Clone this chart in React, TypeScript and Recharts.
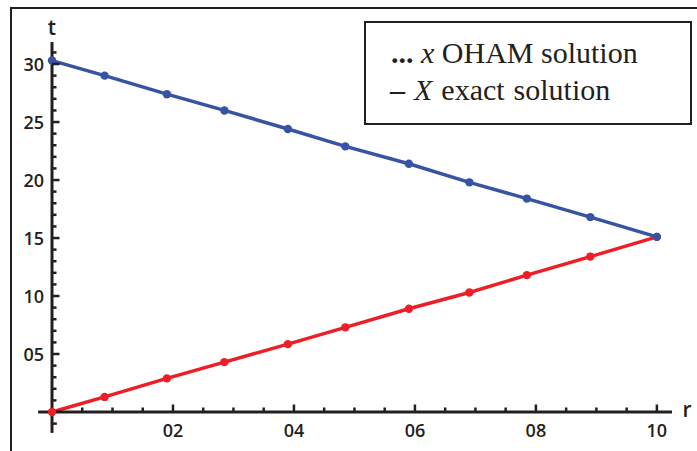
import React from 'react';
import { LineChart, Line, XAxis, YAxis, ReferenceLine, Legend } from 'recharts';

// ---- data ----
const rValues = [0, 0.087, 0.19, 0.285, 0.39, 0.485, 0.59, 0.69, 0.785, 0.89, 1.0];
const ohamValues = [3.03, 2.9, 2.74, 2.6, 2.44, 2.29, 2.14, 1.98, 1.84, 1.68, 1.51];
const exactValues = [0, 0.13, 0.29, 0.43, 0.585, 0.73, 0.89, 1.03, 1.18, 1.34, 1.51];

const xMajorTicks = [0.2, 0.4, 0.6, 0.8, 1.0];
const xMajorLabels = ['02', '04', '06', '08', '10'];
const xMinorTicks = [0.05, 0.1, 0.15, 0.25, 0.3, 0.35, 0.45, 0.5, 0.55, 0.65, 0.7, 0.75, 0.85, 0.9, 0.95];

const yMajorTicks = [0.5, 1.0, 1.5, 2.0, 2.5, 3.0];
const yMajorLabels = ['05', '10', '15', '20', '25', '30'];
const yMinorTicks = [
  0.1, 0.2, 0.3, 0.4, 0.6, 0.7, 0.8, 0.9, 1.1, 1.2, 1.3, 1.4, 1.6, 1.7, 1.8, 1.9,
  2.1, 2.2, 2.3, 2.4, 2.6, 2.7, 2.8, 2.9, 3.1,
];
const yBelowTicks = [-0.1];

const xDomain = [0, 1.025];
const yDomain = [0, 3.19];
const xAxisLeftExtent = -0.023;
const yAxisBottomExtent = -0.18;

const legendLines = ['x OHAM solution', 'X exact solution'];

const data = rValues.map((r, i) => ({ r, oham: ohamValues[i], exact: exactValues[i] }));

// ---- styles ----
const INK = '#231f20';
const BLUE = '#3753a4';
const RED = '#ed1f26';
const SANS = '"Open Sans", "Noto Sans", sans-serif';
const SERIF = '"Liberation Serif", "Times New Roman", serif';
const Y_BELOW_TICK_LEN = 0.008;

const findMajor = (list: number[], v: number) => list.findIndex((t) => Math.abs(t - v) < 1e-6);

const XTick = (props: any) => {
  const { x, y, payload } = props;
  const idx = findMajor(xMajorTicks, payload.value);
  const len = idx >= 0 ? 7.5 : 4.5;
  return (
    <g>
      <line x1={x} x2={x} y1={y} y2={y - len} stroke={INK} strokeWidth={2.5} />
      {idx >= 0 ? (
        <text x={x} y={y + 18} textAnchor="middle" dominantBaseline="central" fontFamily={SANS} fontWeight={600} fontSize={18} fill={INK}>
          {xMajorLabels[idx]}
        </text>
      ) : null}
    </g>
  );
};

const YTick = (props: any) => {
  const { x, y, payload } = props;
  const idx = findMajor(yMajorTicks, payload.value);
  const len = idx >= 0 ? 7.5 : 4.5;
  return (
    <g>
      <line x1={x} x2={x + len} y1={y} y2={y} stroke={INK} strokeWidth={2.5} />
      {idx >= 0 ? (
        <text x={x - 8} y={y} textAnchor="end" dominantBaseline="central" fontFamily={SANS} fontWeight={600} fontSize={18} fill={INK}>
          {yMajorLabels[idx]}
        </text>
      ) : null}
    </g>
  );
};

const YLabel = (props: any) => {
  const vb = props.viewBox;
  return (
    <text x={vb.x + vb.width} y={vb.y - 15} textAnchor="middle" dominantBaseline="central" fontFamily={SANS} fontWeight={600} fontSize={21} fill={INK}>
      t
    </text>
  );
};

const XLabel = (props: any) => {
  const vb = props.viewBox;
  return (
    <text x={vb.x + vb.width + 15} y={vb.y - 3} textAnchor="middle" dominantBaseline="central" fontFamily={SANS} fontWeight={600} fontSize={21} fill={INK}>
      r
    </text>
  );
};

const LegendBox = () => (
  <svg width={328} height={104} style={{ display: 'block' }}>
    <rect x={1} y={1} width={326} height={102} fill="#fff" stroke={INK} strokeWidth={2} />
    <text x={27} y={42} fontFamily={SERIF} fontSize={30} fill={INK}>
      <tspan fontWeight="bold">...</tspan>
      <tspan> </tspan>
      <tspan fontStyle="italic">{legendLines[0].split(' ')[0]}</tspan>
      <tspan>{' ' + legendLines[0].split(' ').slice(1).join(' ')}</tspan>
    </text>
    <text x={26} y={79} fontFamily={SERIF} fontSize={30} fill={INK} wordSpacing={1.5}>
      <tspan fontWeight="bold">–</tspan>
      <tspan> </tspan>
      <tspan fontStyle="italic">{legendLines[1].split(' ')[0]}</tspan>
      <tspan>{' ' + legendLines[1].split(' ').slice(1).join(' ')}</tspan>
    </text>
  </svg>
);

export default function App() {
  const allXTicks = [...xMinorTicks, ...xMajorTicks].sort((a, b) => a - b);
  const allYTicks = [...yMinorTicks, ...yMajorTicks].sort((a, b) => a - b);
  return (
    <div style={{ position: 'absolute', left: 0, top: 0, width: 697, height: 451, background: '#fff', overflow: 'hidden' }}>
      <div
        style={{
          position: 'absolute',
          left: 10,
          top: 7,
          width: 700,
          height: 460,
          borderLeft: `2px solid ${INK}`,
          borderTop: `2px solid ${INK}`,
        }}
      />
      <div style={{ position: 'absolute', left: 0, top: 0 }}>
        <LineChart width={697} height={451} data={data} margin={{ top: 42, right: 25, bottom: 0, left: 0 }}>
          <XAxis
            dataKey="r"
            type="number"
            domain={xDomain}
            ticks={allXTicks}
            interval={0}
            height={39}
            tickSize={0}
            tickMargin={0}
            tickLine={false}
            axisLine={{ stroke: INK, strokeWidth: 3 }}
            tick={<XTick />}
            label={<XLabel />}
          />
          <YAxis
            type="number"
            domain={yDomain}
            ticks={allYTicks}
            interval={0}
            width={52}
            tickSize={0}
            tickMargin={0}
            tickLine={false}
            axisLine={{ stroke: INK, strokeWidth: 3 }}
            tick={<YTick />}
            label={<YLabel />}
          />
          <ReferenceLine
            segment={[{ x: 0, y: yAxisBottomExtent }, { x: 0, y: 0 }]}
            ifOverflow="visible"
            stroke={INK}
            strokeWidth={3}
          />
          <ReferenceLine
            segment={[{ x: xAxisLeftExtent, y: 0 }, { x: 0, y: 0 }]}
            ifOverflow="visible"
            stroke={INK}
            strokeWidth={3}
          />
          {yBelowTicks.map((t) => (
            <ReferenceLine
              key={'yb' + t}
              segment={[{ x: 0, y: t }, { x: Y_BELOW_TICK_LEN, y: t }]}
              ifOverflow="visible"
              stroke={INK}
              strokeWidth={2.5}
            />
          ))}
          <Line
            type="linear"
            dataKey="exact"
            name="X exact solution"
            stroke={RED}
            strokeWidth={3.5}
            dot={{ r: 4.2, fill: RED, stroke: RED, strokeWidth: 0 }}
            isAnimationActive={false}
          />
          <Line
            type="linear"
            dataKey="oham"
            name="x OHAM solution"
            stroke={BLUE}
            strokeWidth={3.5}
            dot={{ r: 4.2, fill: BLUE, stroke: BLUE, strokeWidth: 0 }}
            isAnimationActive={false}
          />
          <Legend
            layout="horizontal"
            align="center"
            verticalAlign="middle"
            wrapperStyle={{ left: 364, top: 21, width: 328, height: 104 }}
            content={() => <LegendBox />}
          />
        </LineChart>
      </div>
    </div>
  );
}
